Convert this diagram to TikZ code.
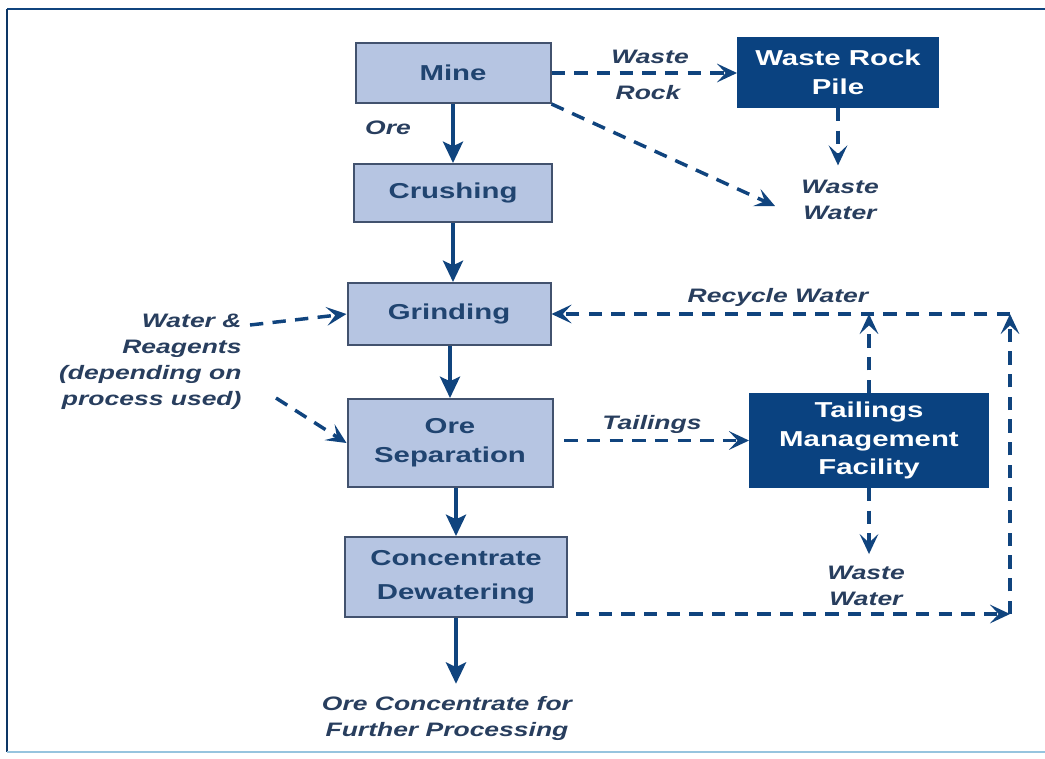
\documentclass[tikz,border=0pt]{standalone}
\usepackage{fontspec}
\setmainfont{Liberation Sans}[FakeStretch=1.36]
\usetikzlibrary{arrows.meta}

\definecolor{flowblue}{RGB}{16,68,126}
\definecolor{darkfill}{RGB}{10,66,128}
\definecolor{boxfill}{RGB}{182,197,226}
\definecolor{boxedge}{RGB}{66,82,110}
\definecolor{boxtext}{RGB}{32,68,112}
\definecolor{lbltext}{RGB}{40,62,94}
\definecolor{edgelight}{RGB}{150,196,222}

\tikzset{every picture/.style={line width=0.75pt}}
\tikzset{
  lightbox/.style={draw=boxedge, fill=boxfill, line width=1.5, text=boxtext, align=center, inner sep=0.75pt,
    font=\fontsize{16.2}{21.5}\selectfont\bfseries},
  darkbox/.style={draw=darkfill, fill=darkfill, line width=1.5, text=white, align=center, inner sep=0.75pt,
    font=\fontsize{16.2}{21.5}\selectfont\bfseries},
  lbl/.style={text=lbltext, align=center, inner sep=0.75pt,
    font=\fontsize{14.6}{19.5}\selectfont\bfseries\itshape},
  solidarrow/.style={draw=flowblue, line width=3, -{Stealth[length=16pt,width=15pt,inset=3.5pt]}},
  dasharrow/.style={draw=flowblue, line width=2.6, dash pattern=on 10pt off 7pt,
    -{Stealth[length=15pt,width=14pt,inset=6.5pt]}},
}

\begin{document}
\begin{tikzpicture}[x=0.75pt,y=0.75pt,yscale=-1,xscale=1]
\useasboundingbox (0,0) rectangle (1045,758);
\fill[white] (0,0) rectangle (1045,758);

%Frame
\draw [color=flowblue, line width=2.2] (7,9) -- (1045,9);
\draw [color=flowblue!80!black, line width=1.6] (7,9) -- (7,752);
\draw [color=edgelight, line width=1.6] (7,752) -- (1045,752);

%Process boxes
\node (mine) at (453,73) [lightbox, minimum width=146.25pt, minimum height=45pt] {Mine};
\node (crush) at (453,193) [lightbox, minimum width=148.5pt, minimum height=43.5pt] {Crushing};
\node (grind) at (449,314) [lightbox, minimum width=152.25pt, minimum height=46.5pt] {Grinding};
\node (oresep) at (450,443) [lightbox, minimum width=153.75pt, minimum height=66pt] {Ore\\Separation};
\node (dewat) at (456,577) [lightbox, minimum width=166.5pt, minimum height=60pt] {Concentrate\\[4pt]Dewatering};
\node (wrp) at (838,72.5) [darkbox, minimum width=150pt, minimum height=51.75pt] {Waste Rock\\Pile};
\node (tmf) at (869,440.5) [darkbox, minimum width=178.5pt, minimum height=69.75pt] {Tailings\\Management\\Facility};

% Text Node
\node (wastelbl) at (650,57) [lbl] {Waste};
% Text Node
\node (rocklbl) at (648,93) [lbl] {Rock};
% Text Node
\node (orelbl) at (388,128) [lbl] {Ore};
% Text Node
\node (wwtop) at (840,200) [lbl] {Waste\\Water};
% Text Node
\node (reag) at (243,362) [lbl, anchor=east, align=right] {Water \&\\Reagents\\(depending on\\process used)};
% Text Node
\node (taillbl) at (652,424) [lbl] {Tailings};
% Text Node
\node (recyclbl) at (778,297) [lbl] {Recycle Water};
% Text Node
\node (wwlow) at (866,586) [lbl] {Waste\\Water};
% Text Node
\node (prod) at (447,718) [lbl] {Ore Concentrate for\\Further Processing};

\coordinate (wwtip) at (775,206);
\coordinate (reagA) at (250,325);
\coordinate (reagB) at (276,398);
\coordinate (rc) at (1010,314);
\coordinate (cb) at (1010,614);

%Straight Lines
\draw [solidarrow] (mine.south) -- (crush.north);
\draw [solidarrow] (crush.south) -- (grind.north -| crush.south);
\draw [solidarrow] (oresep.north |- grind.south) -- (oresep.north);
\draw [solidarrow] (dewat.north |- oresep.south) -- (dewat.north);
\draw [solidarrow] (dewat.south) -- ([yshift=-8]dewat.south |- prod.north);

%Dashed Lines
\draw [dasharrow] (mine.east) -- (mine.east -| wrp.west);
\draw [dasharrow] (mine.south east) -- (wwtip);
\draw [dasharrow] (wrp.south) -- ([yshift=-10]wwtop.north -| wrp.south);
\draw [dasharrow] (reagA) -- (grind.west);
\draw [dasharrow] (reagB) -- (oresep.west);
\draw [dasharrow, shorten <=8pt] (oresep.east |- tmf.west) -- (tmf.west);
\draw [dasharrow] (tmf.north) -- (tmf.north |- rc);
\draw [dasharrow] (tmf.south) -- ([yshift=-8]wwlow.north -| tmf.south);
\draw [dasharrow] (rc) -- (grind.east);
\draw [dasharrow, shorten <=6pt] (dewat.east |- cb) -- (cb);
\draw [dasharrow] (cb) -- (rc);

\end{tikzpicture}
\end{document}
